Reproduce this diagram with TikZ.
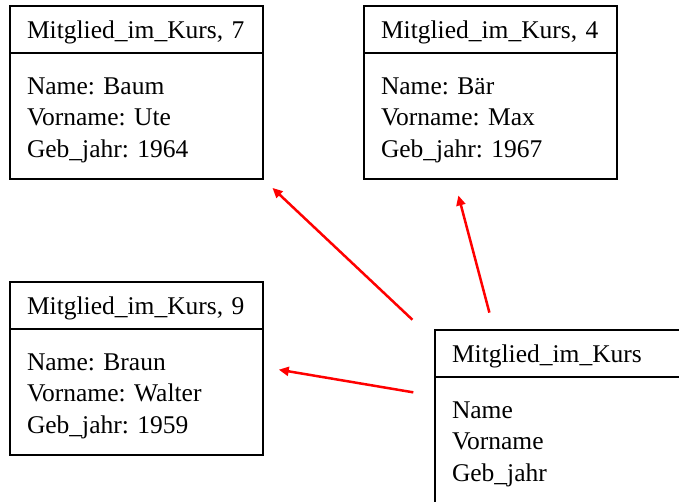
\documentclass[tikz,border=0pt]{standalone}
\usepackage{fontspec}
\setmainfont{Liberation Serif}
\frenchspacing
\usetikzlibrary{arrows.meta,positioning}

\tikzset{
  objbox/.style={draw,line width=1.5pt,outer sep=0pt,inner xsep=17pt,text width=219pt,align=left,
                 font=\fontsize{25.5}{31.5}\selectfont},
  headbox/.style={objbox,minimum height=47pt,text depth=-1.5pt,anchor=north west},
  bodybox/.style={objbox,minimum height=126pt,text depth=60.5pt},
  link/.style={-{Triangle[length=10pt,width=9pt]},red,line width=2.5pt}
}

\begin{document}
\begin{tikzpicture}[x=1pt,y=-1pt]
  \useasboundingbox (0,0) rectangle (679,501);
  \clip (0,0) rectangle (679,501);

  % objects and class
  \foreach \n/\px/\py/\title/\lines in
    {7/10/6/{Mitglied\_im\_Kurs, 7}/{Name: Baum\\Vorname: Ute\\Geb\_jahr: 1964},
     4/364/6/{Mitglied\_im\_Kurs, 4}/{Name: Bär\\Vorname: Max\\Geb\_jahr: 1967},
     9/10/282/{Mitglied\_im\_Kurs, 9}/{Name: Braun\\Vorname: Walter\\Geb\_jahr: 1959},
     K/435/330/{Mitglied\_im\_Kurs}/{Name\\Vorname\\Geb\_jahr}}
  {
    \node[headbox] (head\n) at (\px,\py) {\title};
    \node[bodybox,below=0pt of head\n] (body\n) {\lines};
  }

  \draw[link,shorten <=31pt,shorten >=13pt]
    ([yshift=-11pt]headK.north west) -- (body7.south east);
  \draw[link,shorten <=18pt,shorten >=17pt]
    ([xshift=59pt]headK.north west) -- ([xshift=90pt]body4.south west);
  \draw[link,shorten <=22pt,shorten >=16pt]
    ([yshift=-19pt]bodyK.north west) -- ([yshift=-38pt]body9.north east);
\end{tikzpicture}
\end{document}
